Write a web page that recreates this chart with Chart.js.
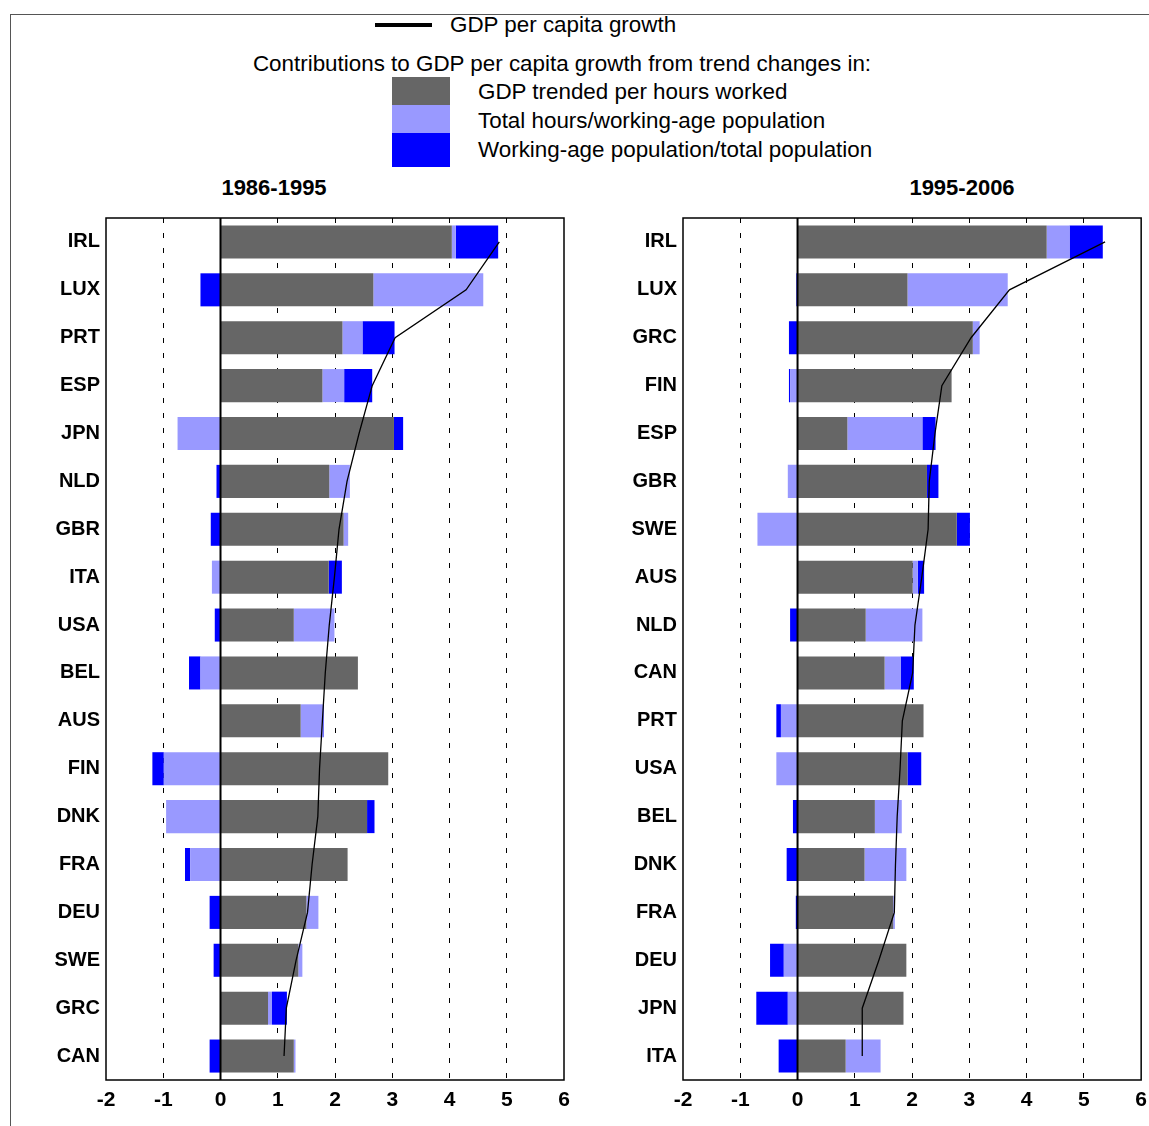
<!DOCTYPE html>
<html><head><meta charset="utf-8">
<script src="https://cdn.jsdelivr.net/npm/chart.js@4"></script>
<style>
html,body{margin:0;padding:0;background:#fff;}
body{width:1149px;height:1126px;position:relative;overflow:hidden;font-family:"Liberation Sans",Arial,sans-serif;color:#000;}
.frame{position:absolute;left:10px;top:14px;width:1139px;height:1112px;border-top:1.5px solid #555;border-left:1.5px solid #555;}
.t{position:absolute;white-space:nowrap;font-size:22.4px;line-height:24px;}
.sw{position:absolute;left:392px;width:58px;}
.title{position:absolute;font-weight:bold;font-size:22px;line-height:24px;transform:translateX(-50%);}
canvas{position:absolute;}
#c1wrap,#c2wrap{position:absolute;top:200px;height:920px;}
</style></head><body>
<div class="frame"></div>
<div style="position:absolute;left:375px;top:23px;width:57px;height:4px;background:#000"></div>
<div class="t" style="left:450px;top:13px">GDP per capita growth</div>
<div class="t" style="left:562px;top:52px;transform:translateX(-50%)">Contributions to GDP per capita growth from trend changes in:</div>
<div class="sw" style="top:77px;height:28px;background:#666666"></div>
<div class="sw" style="top:105px;height:28px;background:#9999FF"></div>
<div class="sw" style="top:133px;height:34px;background:#0000FF"></div>
<div class="t" style="left:478px;top:80px">GDP trended per hours worked</div>
<div class="t" style="left:478px;top:109px">Total hours/working-age population</div>
<div class="t" style="left:478px;top:138px">Working-age population/total population</div>
<div class="title" style="left:274px;top:176px">1986-1995</div>
<div class="title" style="left:962px;top:176px">1995-2006</div>
<div id="c1wrap" style="left:10px;width:570px"><canvas id="c1"></canvas></div>
<div id="c2wrap" style="left:587px;width:568px"><canvas id="c2"></canvas></div>
<script>
// ---- Data: 1986-1995 ----
const cats1 = ["IRL","LUX","PRT","ESP","JPN","NLD","GBR","ITA","USA","BEL","AUS","FIN","DNK","FRA","DEU","SWE","GRC","CAN"];
const prod1 = [4.04,2.67,2.13,1.78,3.03,1.90,2.15,1.89,1.28,2.40,1.40,2.93,2.56,2.22,1.50,1.36,0.83,1.28];
const hours1 = [0.07,1.92,0.35,0.38,-0.75,0.36,0.08,-0.15,0.71,-0.35,0.39,-0.99,-0.95,-0.53,0.21,0.07,0.07,0.03];
const demo1 = [0.74,-0.35,0.56,0.49,0.16,-0.07,-0.17,0.23,-0.10,-0.20,0.01,-0.20,0.13,-0.09,-0.19,-0.12,0.26,-0.19];
const gdppc1 = [4.87,4.29,3.05,2.65,2.42,2.21,2.07,1.99,1.90,1.83,1.78,1.73,1.70,1.60,1.52,1.32,1.15,1.11];
// ---- Data: 1995-2006 ----
const cats2 = ["IRL","LUX","GRC","FIN","ESP","GBR","SWE","AUS","NLD","CAN","PRT","USA","BEL","DNK","FRA","DEU","JPN","ITA"];
const prod2 = [4.35,1.92,3.06,2.69,0.87,2.26,2.78,2.01,1.19,1.52,2.20,1.92,1.35,1.17,1.67,1.90,1.85,0.84];
const hours2 = [0.40,1.75,0.12,-0.13,1.31,-0.17,-0.70,0.09,0.99,0.28,-0.29,-0.37,0.47,0.73,0.03,-0.24,-0.17,0.61];
const demo2 = [0.58,-0.02,-0.15,-0.02,0.23,0.20,0.23,0.11,-0.13,0.23,-0.08,0.24,-0.08,-0.19,-0.03,-0.24,-0.55,-0.33];
const gdppc2 = [5.37,3.70,3.03,2.52,2.40,2.30,2.28,2.17,2.05,2.01,1.83,1.79,1.74,1.71,1.69,1.42,1.13,1.13];
const xTicks = [-2,-1,0,1,2,3,4,5,6];

const framePlugin = {
  id:'frame',
  afterDatasetsDraw(chart){
    const {ctx, chartArea:a, scales:{x}} = chart;
    ctx.save();
    const z = x.getPixelForValue(0);
    ctx.strokeStyle='#000'; ctx.lineWidth=2;
    ctx.beginPath(); ctx.moveTo(z,a.top); ctx.lineTo(z,a.bottom); ctx.stroke();
    ctx.restore();
  },
  afterDraw(chart){
    const {ctx, chartArea:a} = chart;
    ctx.save();
    ctx.strokeStyle='#000'; ctx.lineWidth=1.5;
    ctx.strokeRect(a.left, a.top, a.right-a.left, a.bottom-a.top);
    ctx.restore();
  }
};

function make(id, cats, prod, hours, demo, gdppc){
  return new Chart(document.getElementById(id), {
    data:{
      labels:cats,
      datasets:[
        {type:'line', label:'GDP per capita growth', data:gdppc, borderColor:'#000', borderWidth:1.3, pointRadius:0, tension:0, fill:false, order:0, stack:'line'},
        {type:'bar', label:'GDP trended per hours worked', data:prod, backgroundColor:'#666666', order:1, stack:'c'},
        {type:'bar', label:'Total hours/working-age population', data:hours, backgroundColor:'#9999FF', order:1, stack:'c'},
        {type:'bar', label:'Working-age population/total population', data:demo, backgroundColor:'#0000FF', order:1, stack:'c'}
      ]
    },
    options:{
      indexAxis:'y',
      responsive:true, maintainAspectRatio:false, animation:false,
      layout:{padding:{top:0,right:id==='c1'?16:8,bottom:0,left:0}},
      datasets:{bar:{barPercentage:0.69, categoryPercentage:1}},
      plugins:{legend:{display:false}, tooltip:{enabled:false}},
      scales:{
        x:{type:'linear', min:-2, max:6, stacked:true,
          afterBuildTicks(s){ s.ticks = xTicks.map(v=>({value:v})); },
          ticks:{stepSize:1, padding:8, color:'#000', font:{family:'"Liberation Sans", Arial, sans-serif', size:21, weight:'bold'}},
          grid:{drawTicks:false, lineWidth:1, color:(c)=>{const v=c.tick&&c.tick.value; return (v===0||v===-2||v===6)?'rgba(0,0,0,0)':'#000';}},
          border:{display:false, dash:[5,10]},
          afterFit(s){ s.height = 40; }
        },
        y:{type:'category', stacked:true, offset:true,
          ticks:{padding:6, color:'#000', font:{family:'"Liberation Sans", Arial, sans-serif', size:20, weight:'bold'}},
          grid:{display:false, drawTicks:false, tickLength:0},
          border:{display:false},
          afterFit(s){ s.width = 96; }
        }
      }
    },
    plugins:[framePlugin]
  });
}
make('c1', cats1, prod1, hours1, demo1, gdppc1);
make('c2', cats2, prod2, hours2, demo2, gdppc2);
</script>
</body></html>
